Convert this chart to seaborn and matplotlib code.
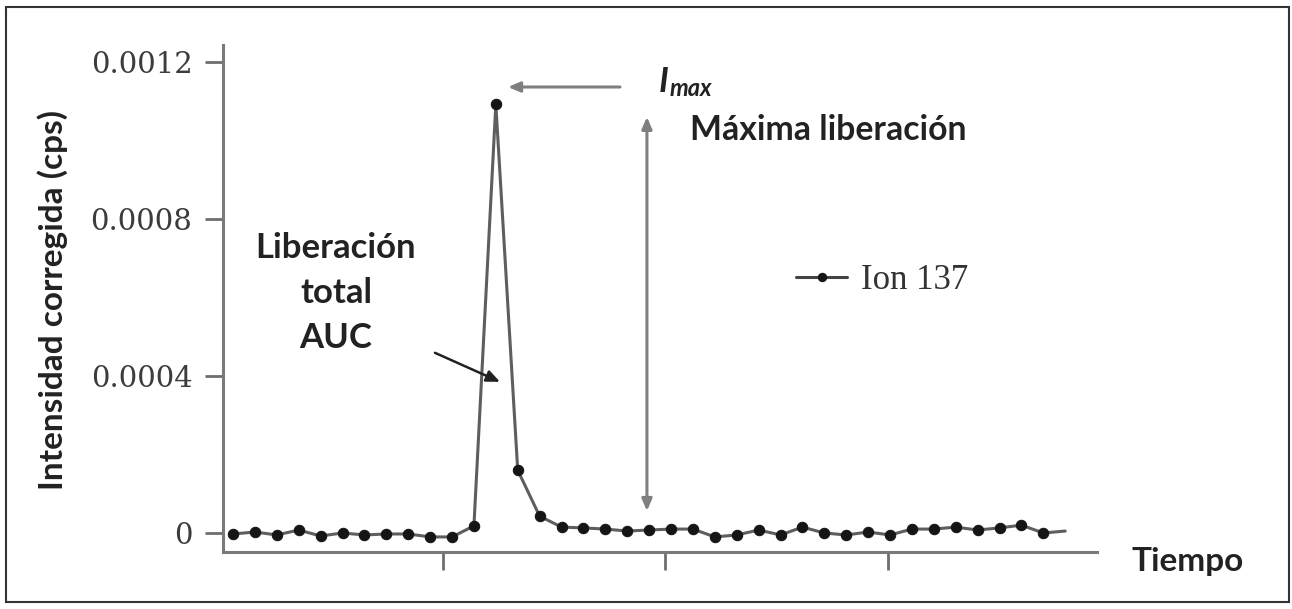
import matplotlib
matplotlib.use("Agg")
import matplotlib.pyplot as plt
import seaborn as sns
import pandas as pd
from matplotlib.patches import Rectangle

# ---- data ----
tiempo = list(range(39))
intensidad = [-2.5e-6, 2.5e-6, -5e-6, 7.6e-6, -7.6e-6, 0.0, -5e-6, -2.5e-6, -2.5e-6,
              -10e-6, -10e-6, 18e-6, 1092e-6, 160e-6, 43e-6, 15e-6, 13e-6, 10e-6,
              5e-6, 7.6e-6, 10e-6, 10e-6, -10e-6, -5e-6, 7.6e-6, -5e-6, 15e-6, 0.0,
              -5e-6, 2.5e-6, -5e-6, 10e-6, 10e-6, 15e-6, 7.6e-6, 13e-6, 20e-6, 0.0, 5e-6]
serie = "Ion 137"
y_ticks = [0, 0.0004, 0.0008, 0.0012]
y_tick_labels = ["0", "0.0004", "0.0008", "0.0012"]
x_ticks = [9.59, 19.73, 29.91]

df = pd.DataFrame({"Tiempo": tiempo, "Intensidad": intensidad, "Serie": serie})

sns.set_style("ticks")
plt.rcParams["font.family"] = ["Lato", "DejaVu Sans"]

W, H = 1292, 609
fig = plt.figure(figsize=(W / 100, H / 100), dpi=100)
ax = fig.add_axes([223 / W, 1 - 552 / H, (1097 - 223) / W, (552 - 45) / H])

sns.lineplot(data=df, x="Tiempo", y="Intensidad", ax=ax, color="#5e5e5e",
             linewidth=2.2, marker="o", markersize=7.5, markerfacecolor="#151515",
             markeredgecolor="#151515", markevery=list(range(len(tiempo) - 1)),
             label=serie)

ax.set_xlim(-0.457, 39.45)
ax.set_ylim(-4.84e-5, 0.001243)

for s in ["top", "right"]:
    ax.spines[s].set_visible(False)
for s in ["left", "bottom"]:
    ax.spines[s].set_color("#7a7a7a")
    ax.spines[s].set_linewidth(2.2)

ax.set_yticks(y_ticks)
ax.set_yticklabels(y_tick_labels, family="DejaVu Serif", fontsize=21, color="#3c3c3c")
ax.set_xticks(x_ticks)
ax.set_xticklabels([""] * len(x_ticks))
ax.tick_params(axis="both", direction="out", length=13, width=2.0, color="#6e6e6e")
ax.tick_params(axis="y", pad=9)

ax.set_ylabel("Intensidad corregida (cps)", fontsize=24, fontweight="bold", color="#222222")
ax.yaxis.set_label_coords(-0.177, 0.497)
ax.set_xlabel("Tiempo", fontsize=24, fontweight="bold", color="#222222", ha="left", va="center")
ax.xaxis.set_label_coords(1.04, -0.018)

# legend
leg = ax.legend(loc="center left", bbox_to_anchor=(0.656, 0.536), frameon=False,
                handlelength=1.45, handletextpad=0.4, borderpad=0, borderaxespad=0,
                prop={"family": "Liberation Serif", "size": 25})
for txt in leg.get_texts():
    txt.set_color("#333333")
for ln in leg.get_lines():
    ln.set_color("#444444")
    ln.set_markersize(6)

arrow_grey = "#7f7f7f"
# I_max arrow
ax.annotate("", xy=(12.56, 0.001136), xytext=(17.67, 0.001136),
            arrowprops=dict(arrowstyle="-|>,head_length=0.7,head_width=0.3",
                            color=arrow_grey, lw=2.2, shrinkA=0, shrinkB=0))
ax.text(19.45, 0.001124, "I", fontsize=25, fontweight="bold", style="italic",
        color="#222222", ha="left", va="baseline")
ax.text(19.95, 0.001114, "max", fontsize=17, fontweight="bold", style="italic",
        color="#222222", ha="left", va="baseline")

# Máxima liberación double arrow
ax.annotate("", xy=(18.9, 5.6e-5), xytext=(18.9, 0.00106),
            arrowprops=dict(arrowstyle="<|-|>,head_length=0.7,head_width=0.3",
                            color=arrow_grey, lw=2.2, shrinkA=0, shrinkB=0))
ax.text(27.17, 0.001001, "Máxima liberación", fontsize=24.3, fontweight="bold",
        color="#222222", ha="center", va="baseline")

# AUC arrow
ax.annotate("", xy=(12.19, 0.000385), xytext=(9.22, 0.000459),
            arrowprops=dict(arrowstyle="-|>,head_length=0.8,head_width=0.35",
                            color="#222222", lw=1.8, shrinkA=0, shrinkB=0))
for txt, yv in [("Liberación", 0.000701), ("total", 0.000586), ("AUC", 0.000471)]:
    ax.text(4.70, yv, txt, fontsize=25, fontweight="bold", color="#222222",
            ha="center", va="baseline")

# outer frame
fig.add_artist(Rectangle((6 / W, 1 - 602 / H), (1289 - 6) / W, (602 - 7) / H,
                         transform=fig.transFigure, fill=False, lw=1.5, ec="#333333"))

fig.savefig("out.png", dpi=100, facecolor="white")
